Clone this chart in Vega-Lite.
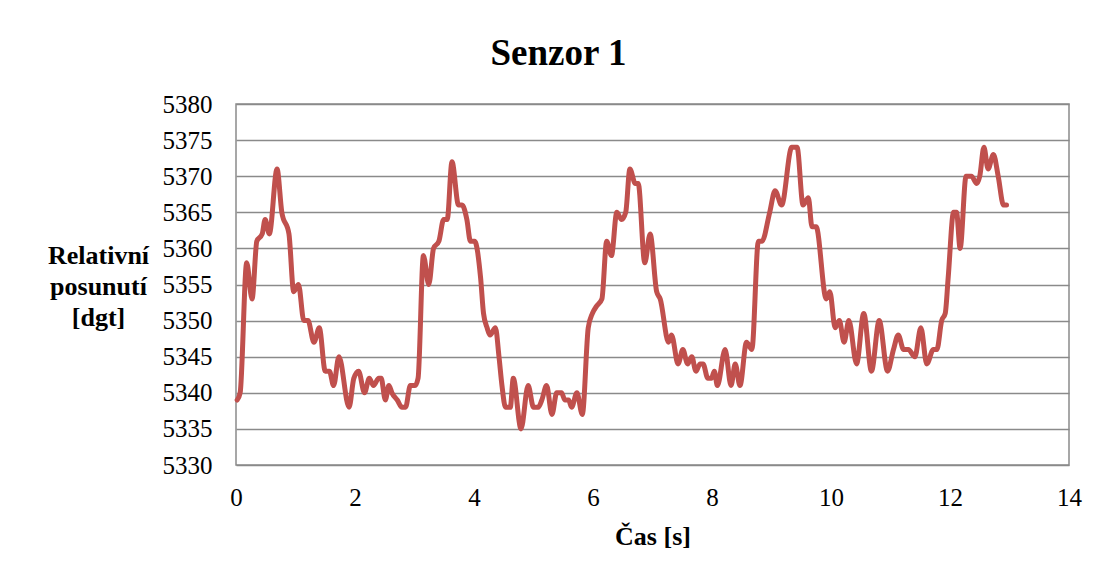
{
  "$schema": "https://vega.github.io/schema/vega-lite/v6.json",
  "width": 833,
  "height": 361,
  "autosize": {"type": "none"},
  "padding": {"left": 236, "top": 104, "right": 28, "bottom": 113},
  "background": "white",
  "title": {
    "text": "Senzor 1",
    "font": "Liberation Serif",
    "fontSize": 37,
    "fontWeight": "bold",
    "color": "black",
    "anchor": "middle",
    "frame": "group",
    "dx": -94,
    "baseline": "bottom",
    "offset": -18
  },
  "config": {
    "view": {"stroke": "#8a8a8a", "strokeWidth": 1.5},
    "axis": {
      "labelFont": "Liberation Serif",
      "labelFontSize": 25,
      "labelColor": "black",
      "titleFont": "Liberation Serif",
      "titleFontWeight": "bold",
      "titleColor": "black",
      "titleFontSize": 26,
      "domain": false,
      "ticks": false,
      "labelFlush": false,
      "labelOverlap": false
    }
  },
  "data": {
    "values": [
      {"t": 0.02, "v": 5339}, {"t": 0.07, "v": 5340}, {"t": 0.18, "v": 5358}, {"t": 0.27, "v": 5353},
      {"t": 0.35, "v": 5361}, {"t": 0.44, "v": 5362}, {"t": 0.49, "v": 5364}, {"t": 0.56, "v": 5362},
      {"t": 0.69, "v": 5371}, {"t": 0.77, "v": 5365}, {"t": 0.89, "v": 5362}, {"t": 0.97, "v": 5354},
      {"t": 1.05, "v": 5355}, {"t": 1.14, "v": 5350}, {"t": 1.21, "v": 5350}, {"t": 1.31, "v": 5347},
      {"t": 1.40, "v": 5349}, {"t": 1.50, "v": 5343}, {"t": 1.57, "v": 5343}, {"t": 1.64, "v": 5341},
      {"t": 1.73, "v": 5345}, {"t": 1.90, "v": 5338}, {"t": 1.98, "v": 5342}, {"t": 2.06, "v": 5343},
      {"t": 2.16, "v": 5340}, {"t": 2.24, "v": 5342}, {"t": 2.31, "v": 5341}, {"t": 2.40, "v": 5342},
      {"t": 2.44, "v": 5342}, {"t": 2.51, "v": 5339}, {"t": 2.57, "v": 5341}, {"t": 2.62, "v": 5340},
      {"t": 2.71, "v": 5339}, {"t": 2.79, "v": 5338}, {"t": 2.85, "v": 5338}, {"t": 2.93, "v": 5341},
      {"t": 3.01, "v": 5341}, {"t": 3.06, "v": 5342}, {"t": 3.15, "v": 5359}, {"t": 3.24, "v": 5355},
      {"t": 3.32, "v": 5360}, {"t": 3.41, "v": 5361}, {"t": 3.49, "v": 5364}, {"t": 3.55, "v": 5364},
      {"t": 3.63, "v": 5372}, {"t": 3.74, "v": 5366}, {"t": 3.80, "v": 5366}, {"t": 3.88, "v": 5364},
      {"t": 3.94, "v": 5361}, {"t": 4.01, "v": 5361}, {"t": 4.11, "v": 5356}, {"t": 4.16, "v": 5351},
      {"t": 4.22, "v": 5349}, {"t": 4.27, "v": 5348}, {"t": 4.36, "v": 5349}, {"t": 4.42, "v": 5345},
      {"t": 4.47, "v": 5341}, {"t": 4.53, "v": 5338}, {"t": 4.61, "v": 5338}, {"t": 4.66, "v": 5342},
      {"t": 4.79, "v": 5335}, {"t": 4.91, "v": 5341}, {"t": 5.00, "v": 5338}, {"t": 5.08, "v": 5338},
      {"t": 5.14, "v": 5339}, {"t": 5.22, "v": 5341}, {"t": 5.31, "v": 5337}, {"t": 5.39, "v": 5340},
      {"t": 5.47, "v": 5340}, {"t": 5.53, "v": 5339}, {"t": 5.59, "v": 5339}, {"t": 5.64, "v": 5338},
      {"t": 5.73, "v": 5340}, {"t": 5.82, "v": 5337}, {"t": 5.92, "v": 5349}, {"t": 5.99, "v": 5351},
      {"t": 6.06, "v": 5352}, {"t": 6.15, "v": 5353}, {"t": 6.23, "v": 5361}, {"t": 6.31, "v": 5359},
      {"t": 6.40, "v": 5365}, {"t": 6.48, "v": 5364}, {"t": 6.55, "v": 5365}, {"t": 6.62, "v": 5371},
      {"t": 6.71, "v": 5369}, {"t": 6.76, "v": 5369}, {"t": 6.87, "v": 5358}, {"t": 6.96, "v": 5362},
      {"t": 7.07, "v": 5354}, {"t": 7.13, "v": 5353}, {"t": 7.27, "v": 5347}, {"t": 7.32, "v": 5348},
      {"t": 7.43, "v": 5344}, {"t": 7.51, "v": 5346}, {"t": 7.59, "v": 5344}, {"t": 7.66, "v": 5345},
      {"t": 7.73, "v": 5343}, {"t": 7.80, "v": 5344}, {"t": 7.85, "v": 5344}, {"t": 7.93, "v": 5342},
      {"t": 7.99, "v": 5342}, {"t": 8.04, "v": 5343}, {"t": 8.09, "v": 5341}, {"t": 8.22, "v": 5346},
      {"t": 8.32, "v": 5341}, {"t": 8.39, "v": 5344}, {"t": 8.47, "v": 5341}, {"t": 8.58, "v": 5347},
      {"t": 8.67, "v": 5346}, {"t": 8.78, "v": 5361}, {"t": 8.84, "v": 5361}, {"t": 8.97, "v": 5365},
      {"t": 9.06, "v": 5368}, {"t": 9.17, "v": 5366}, {"t": 9.34, "v": 5374}, {"t": 9.43, "v": 5374},
      {"t": 9.53, "v": 5366}, {"t": 9.62, "v": 5367}, {"t": 9.68, "v": 5363}, {"t": 9.75, "v": 5363},
      {"t": 9.92, "v": 5353}, {"t": 9.98, "v": 5354}, {"t": 10.07, "v": 5349}, {"t": 10.14, "v": 5350},
      {"t": 10.22, "v": 5347}, {"t": 10.30, "v": 5350}, {"t": 10.43, "v": 5344}, {"t": 10.55, "v": 5351},
      {"t": 10.68, "v": 5343}, {"t": 10.81, "v": 5350}, {"t": 10.95, "v": 5343}, {"t": 11.05, "v": 5346},
      {"t": 11.13, "v": 5348}, {"t": 11.22, "v": 5346}, {"t": 11.30, "v": 5346}, {"t": 11.41, "v": 5345},
      {"t": 11.51, "v": 5349}, {"t": 11.61, "v": 5344}, {"t": 11.72, "v": 5346}, {"t": 11.78, "v": 5346},
      {"t": 11.86, "v": 5350}, {"t": 11.92, "v": 5351}, {"t": 11.97, "v": 5356}, {"t": 12.06, "v": 5365},
      {"t": 12.11, "v": 5365}, {"t": 12.17, "v": 5360}, {"t": 12.27, "v": 5370}, {"t": 12.36, "v": 5370},
      {"t": 12.45, "v": 5369}, {"t": 12.50, "v": 5370}, {"t": 12.57, "v": 5374}, {"t": 12.64, "v": 5371},
      {"t": 12.73, "v": 5373}, {"t": 12.81, "v": 5370}, {"t": 12.90, "v": 5366}, {"t": 12.95, "v": 5366}
    ]
  },
  "mark": {
    "type": "line",
    "color": "#C0504D",
    "strokeWidth": 5,
    "strokeCap": "round",
    "strokeJoin": "round",
    "interpolate": "monotone"
  },
  "encoding": {
    "x": {
      "field": "t",
      "type": "quantitative",
      "scale": {"domain": [0, 14], "nice": false},
      "axis": {
        "values": [0, 2, 4, 6, 8, 10, 12, 14],
        "format": "d",
        "grid": false,
        "labelPadding": 20,
        "title": "Čas [s]",
        "titlePadding": 13
      }
    },
    "y": {
      "field": "v",
      "type": "quantitative",
      "scale": {"domain": [5330, 5380], "nice": false, "zero": false},
      "axis": {
        "values": [5330, 5335, 5340, 5345, 5350, 5355, 5360, 5365, 5370, 5375, 5380],
        "format": "d",
        "grid": true,
        "gridColor": "#8a8a8a",
        "gridWidth": 1.5,
        "labelPadding": 24,
        "title": ["Relativní", "posunutí", "[dgt]"],
        "titleAngle": 0,
        "titleAlign": "center",
        "titleBaseline": "top",
        "titleX": -138,
        "titleY": 138,
        "titleLineHeight": 31
      }
    }
  }
}
